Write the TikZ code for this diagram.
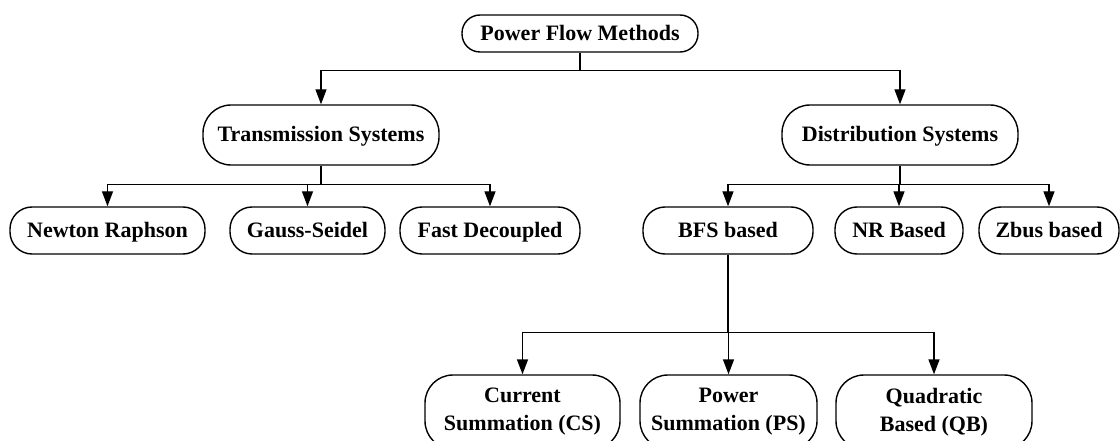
\documentclass[tikz,border=0pt]{standalone}
\usepackage{fontspec}
\setmainfont{Liberation Serif}
\usetikzlibrary{arrows.meta,calc}

\tikzset{
  method/.style={draw, line width=1.4pt, rounded corners=22pt, inner sep=0pt,
                 align=center, font=\fontsize{22}{28}\selectfont\bfseries},
  oneline/.style={method, text height=15pt, text depth=1pt},
  link/.style={line width=1.4pt},
  arr/.style={line width=1.4pt, -{Triangle[length=15pt,width=11pt]}}
}

\begin{document}
\begin{tikzpicture}[x=1pt,y=-1pt]
        \useasboundingbox (0,0) rectangle (1120,441);

        % root
        \node[oneline, rounded corners=18pt, minimum width=236pt, minimum height=37pt] (pfm) at (580,33.5) {Power Flow Methods};

        % systems
        \node[oneline, rounded corners=28pt, minimum width=236pt, minimum height=60pt] (trans) at (321,135) {Transmission Systems};
        \node[oneline, rounded corners=28pt, minimum width=236pt, minimum height=60pt] (dist) at (900,135) {Distribution Systems};

        % transmission methods
        \node[oneline, minimum width=195pt, minimum height=47pt] (newton) at (107.5,230.5) {Newton Raphson};
        \node[oneline, minimum width=155pt, minimum height=47pt] (gauss) at (307.5,230.5) {Gauss-Seidel};
        \node[oneline, minimum width=180pt, minimum height=47pt] (fast) at (490,230.5) {Fast Decoupled};

        % distribution methods
        \node[oneline, minimum width=170pt, minimum height=47pt] (bfs) at (728,230.5) {BFS based};
        \node[oneline, minimum width=128pt, minimum height=47pt] (nr) at (899,230.5) {NR Based};
        \node[oneline, minimum width=140pt, minimum height=47pt] (zbus) at (1049,230.5) {Zbus based};

        % BFS variants
        \node[method, rounded corners=28pt, minimum width=195pt, minimum height=74pt] (cs) at (522.5,412) {Current\\Summation (CS)};
        \node[method, rounded corners=28pt, minimum width=177pt, minimum height=74pt] (ps) at (728.5,412) {Power\\Summation (PS)};
        \node[method, rounded corners=28pt, minimum width=196pt, minimum height=74pt] (qb) at (934,412) {Quadratic\\Based (QB)};

        % junctions
        \coordinate (jroot) at ($(pfm.south)+(0,18)$);
        \coordinate (jtrans) at ($(trans.south)+(0,19)$);
        \coordinate (jdist) at ($(dist.south)+(0,19)$);
        \coordinate (jbfs) at ($(bfs.south)+(0,78)$);

        % connectors
        \draw[link] (pfm.south) -- (jroot);
        \foreach \t in {trans,dist} {
            \draw[arr] (jroot) -| (\t.north);
        }
        \draw[link] (trans.south) -- (jtrans);
        \foreach \t in {newton,gauss,fast} {
            \draw[arr] (jtrans) -| (\t.north);
        }
        \draw[link] (dist.south) -- (jdist);
        \foreach \t in {bfs,nr,zbus} {
            \draw[arr] (jdist) -| (\t.north);
        }
        \draw[link] (bfs.south) -- (jbfs);
        \foreach \t in {cs,ps,qb} {
            \draw[arr] (jbfs) -| (\t.north);
        }
    \end{tikzpicture}
\end{document}
